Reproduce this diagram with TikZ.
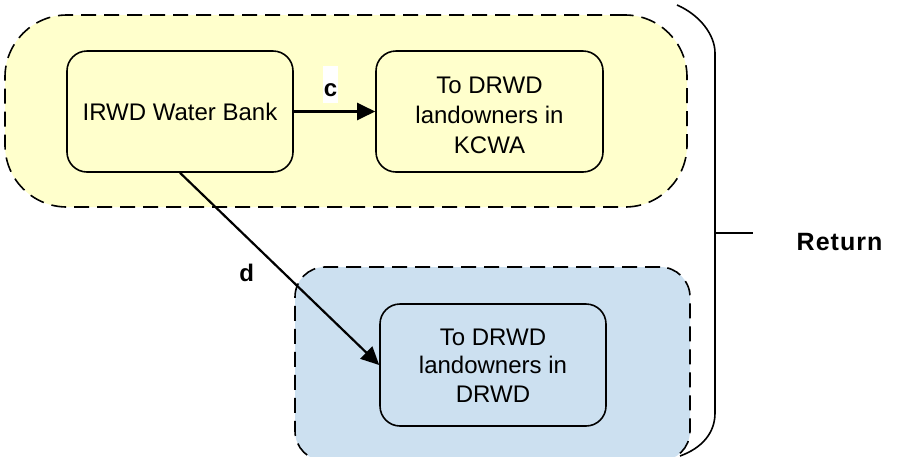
\documentclass[tikz,border=0pt]{standalone}
\usepackage{fontspec}
\setmainfont{Liberation Sans}
\newfontfamily\retfont[LetterSpace=4]{Liberation Sans}
\usetikzlibrary{arrows.meta}
\definecolor{yellowfill}{RGB}{255,255,204}
\definecolor{bluefill}{RGB}{204,224,240}
\tikzset{
  region/.style={draw=black, line width=1.6pt, dash pattern=on 15pt off 8pt, rectangle, inner sep=0pt},
  stepbox/.style={draw=black, line width=1.6pt, rectangle, rounded corners=20pt, inner sep=0pt,
    align=center, font=\fontsize{24}{30}\selectfont},
  arr/.style={line width=2.2pt, -{Triangle[length=18pt, width=17pt]}},
  lbl/.style={font=\fontsize{24}{28}\selectfont\bfseries, inner sep=0pt}
}
\newcommand{\threelines}[5]{\raisebox{#1}[0pt][0pt]{\begin{tabular}{@{}c@{}}#3\\[#2]#4\\[#2]#5\end{tabular}}}
\begin{document}
\begin{tikzpicture}[x=1pt, y=-1pt]
\useasboundingbox (0,0) rectangle (910,456);
\clip (0,0) rectangle (910,456);
% regions
\node[region, fill=yellowfill, rounded corners=62pt, minimum width=682pt, minimum height=192pt] (yreg) at (346,111) {};
\node[region, fill=bluefill, rounded corners=30pt, minimum width=395pt, minimum height=194pt] (breg) at (492.5,364) {};
% boxes
\node[stepbox, minimum width=226pt, minimum height=121pt] (irwd) at (180,111.5) {IRWD Water Bank};
\node[stepbox, minimum width=227pt, minimum height=121pt] (kcwa) at (489.5,111.5) {\threelines{-11.8pt}{0pt}{To DRWD}{landowners in}{KCWA}};
\node[stepbox, minimum width=226pt, minimum height=122pt] (drwd) at (493,365) {\threelines{-9pt}{-1.3pt}{To DRWD}{landowners in}{DRWD}};
% connectors
\draw[arr] (irwd.east) -- (kcwa.west)
  node[pos=0.45, anchor=south, yshift=7pt, lbl, fill=white, minimum width=15pt, minimum height=37pt, text height=29.7pt, text depth=7.3pt] {c};
\draw[arr] (irwd.south) -- (drwd.west)
  node[pos=0.52, xshift=-37pt, lbl] {d};
% brace
\coordinate (bt) at (677,5);
\coordinate (bb) at (680,456);
\coordinate (tick) at (715,233);
\coordinate (tickend) at (753,233);
\draw[line width=1.6pt] (bt) .. controls (700,15) and (715,35) .. (715,53) -- (715,413) .. controls (715,433) and (702,448) .. (bb);
\draw[line width=1.6pt] (tick) -- (tickend);
\node[font=\fontsize{25}{30}\selectfont\retfont\bfseries, inner sep=0pt] (ret) at (839.5,242) {Return};
\end{tikzpicture}
\end{document}
